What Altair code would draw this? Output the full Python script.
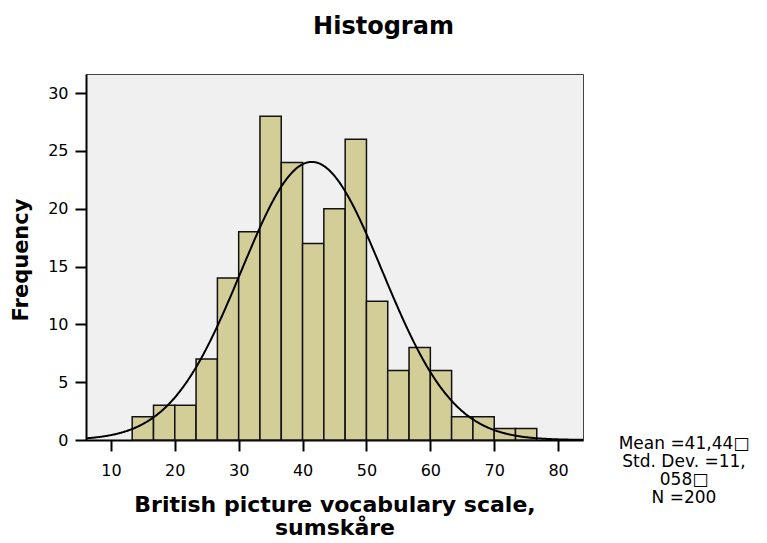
import altair as alt
import pandas as pd

# ---- data ----
bin_lower = [13.33, 16.67, 20.0, 23.33, 26.67, 30.0, 33.33, 36.67, 40.0, 43.33,
             46.67, 50.0, 53.33, 56.67, 60.0, 63.33, 66.67, 70.0, 73.33]
counts = [2, 3, 3, 7, 14, 18, 28, 24, 17, 20, 26, 12, 6, 8, 6, 2, 2, 1, 1]
bin_width = 3.333
mean = 41.44
std_dev = 11.058
n_total = 200
x_ticks = [10, 20, 30, 40, 50, 60, 70, 80]
y_ticks = [0, 5, 10, 15, 20, 25, 30]
title_text = "Histogram"
x_title = ["British picture vocabulary scale,", "sumskåre"]
y_title = "Frequency"
stats_lines = ["Mean =41,44\u25a1", "Std. Dev. =11,", "058\u25a1", "N =200"]

df = pd.DataFrame({
    "lo": bin_lower,
    "hi": [b + bin_width for b in bin_lower],
    "count": counts,
})

FONT = "DejaVu Sans"
X_DOMAIN = [6.1, 83.9]
xscale = alt.Scale(domain=X_DOMAIN, nice=False, zero=False)
yscale = alt.Scale(domain=[0, 31.65], nice=False)

bars = alt.Chart(df).mark_rect(
    fill="#D3CE98", stroke="#111111", strokeWidth=1.5
).encode(
    x=alt.X("lo:Q", scale=xscale, axis=alt.Axis(
        values=x_ticks, format="d", title=x_title,
        labelFont=FONT, labelFontSize=16, labelColor="black", labelPadding=11,
        tickSize=11, tickWidth=2, tickColor="black",
        domainColor="black", domainWidth=2, grid=False,
        titleFont=FONT, titleFontSize=22, titleFontWeight="bold", titleColor="black",
        titleBaseline="top", titleY=54.0, titleLineHeight=23,
    )),
    x2="hi:Q",
    y=alt.Y("count:Q", scale=yscale, axis=alt.Axis(
        values=y_ticks, format="d", title=y_title,
        labelFont=FONT, labelFontSize=16, labelColor="black", labelPadding=7,
        tickSize=11, tickWidth=2, tickColor="black",
        domainColor="black", domainWidth=2, grid=False,
        titleFont=FONT, titleFontSize=21, titleFontWeight="bold", titleColor="black",
        titleX=-55, titleY=185.5, titleAlign="center", titleBaseline="bottom", titleAngle=270,
    )),
    y2=alt.datum(0),
)

curve = alt.Chart(alt.sequence(X_DOMAIN[0], X_DOMAIN[1] + 0.05, 0.1, as_="x")).transform_calculate(
    y=f"{n_total}*{bin_width}*exp(-0.5*pow((datum.x-{mean})/{std_dev},2))/({std_dev}*sqrt(2*PI))"
).mark_line(color="black", strokeWidth=2).encode(
    x=alt.X("x:Q", scale=xscale),
    y=alt.Y("y:Q", scale=yscale),
)

title = alt.Chart(alt.Data(values=[{}])).mark_text(
    text=title_text, font=FONT, fontSize=24, fontWeight="bold",
    align="center", baseline="middle", color="black",
).encode(x=alt.value(297.5), y=alt.value(-46.9))

stats = alt.Chart(alt.Data(values=[{}])).mark_text(
    text=stats_lines, font=FONT, fontSize=17, lineHeight=18.2,
    align="center", baseline="middle", color="black",
).encode(x=alt.value(598), y=alt.value(369.5))

chart = alt.layer(bars, curve, title, stats).properties(
    width=497, height=366,
    autosize=alt.AutoSizeParams(type="none"),
    padding={"left": 78, "top": 66, "right": 176, "bottom": 102},
    background="white",
).configure_view(
    fill="#F0F0F0", stroke="#444444", strokeWidth=1,
)

chart.save("out.html", embed_options={"renderer": "svg", "actions": False})
